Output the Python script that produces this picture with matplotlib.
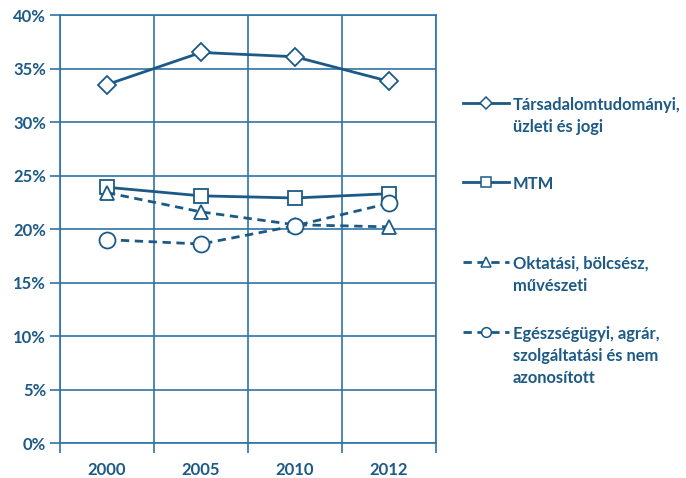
import matplotlib.pyplot as plt
from matplotlib.lines import Line2D
from matplotlib.ticker import FuncFormatter

years = ["2000", "2005", "2010", "2012"]
tarsadalom = [33.5, 36.5, 36.1, 33.8]
mtm = [23.9, 23.1, 22.9, 23.3]
oktatasi = [23.4, 21.6, 20.4, 20.2]
egeszseg = [19.0, 18.6, 20.3, 22.4]

labels = [
    "Társadalomtudományi,\nüzleti és jogi",
    "MTM",
    "Oktatási, bölcsész,\nművészeti",
    "Egészségügyi, agrár,\nszolgáltatási és nem\nazonosított",
]
styles = [
    (tarsadalom, "D", "-", 9.5),
    (mtm, "s", "-", 10.5),
    (oktatasi, "^", "--", 10.5),
    (egeszseg, "o", "--", 11.5),
]

line_c = "#1b5a86"
grid_c = "#2f74a6"
text_c = "#1d5a86"

plt.rcParams['font.family'] = ['Lato', 'DejaVu Sans']
plt.rcParams['font.weight'] = 'bold'

fig = plt.figure(figsize=(6.86, 4.78), dpi=100)
ax = fig.add_axes([0.0875, 0.0732, 0.548, 0.8954])

x = list(range(len(years)))
for vals, mk, ls, ms in styles:
    ax.plot(x, vals, color=line_c, lw=2.0, ls=ls, dashes=(3, 2) if ls == "--" else (None, None),
            marker=mk, markersize=ms, markerfacecolor="white",
            markeredgecolor=line_c, markeredgewidth=1.3, zorder=3)

ax.set_xlim(-0.5, len(years) - 0.5)
ax.set_ylim(0, 40)
ax.set_yticks(range(0, 41, 5))
ax.yaxis.set_major_formatter(FuncFormatter(lambda v, p: f"{v:.0f}%"))

# category labels centred, gridlines/ticks at band edges
ax.set_xticks(x)
ax.set_xticklabels(years)
ax.set_xticks([i - 0.5 for i in range(len(years) + 1)], minor=True)
ax.tick_params(axis="x", which="major", length=0, pad=14, colors=text_c, labelsize=12)
ax.tick_params(axis="x", which="minor", length=7, width=1.2, color=grid_c, direction="out")
ax.tick_params(axis="y", length=7, width=1.2, color=grid_c, colors=text_c, labelsize=12, pad=3)
for lab in ax.get_xticklabels() + ax.get_yticklabels():
    lab.set_fontweight("bold")
    lab.set_color(text_c)

ax.grid(True, axis="y", which="major", color=grid_c, lw=1.2)
ax.grid(True, axis="x", which="minor", color=grid_c, lw=1.2)
for s in ax.spines.values():
    s.set_color(grid_c)
    s.set_linewidth(1.2)

# legend drawn by hand to keep the marker on the first text line
leg_y = [103, 182, 262, 332]
for (vals, mk, ls, ms), lab, yp in zip(styles, labels, leg_y):
    yf = 1 - yp / 478
    fig.add_artist(Line2D([463 / 686, 509 / 686], [yf, yf], transform=fig.transFigure,
                          color=line_c, lw=2.0, ls=ls,
                          dashes=(3, 2) if ls == "--" else (None, None)))
    fig.add_artist(Line2D([486 / 686], [yf], transform=fig.transFigure,
                          marker=mk, markersize=7 if mk != "D" else 6, color=line_c,
                          markerfacecolor="white", markeredgewidth=1.1, ls="none"))
    fig.text(513 / 686, yf + 6 / 478, lab, ha="left", va="top", fontsize=11.9,
             fontweight="bold", color=text_c, linespacing=1.45)

fig.savefig("out.png", dpi=100)
